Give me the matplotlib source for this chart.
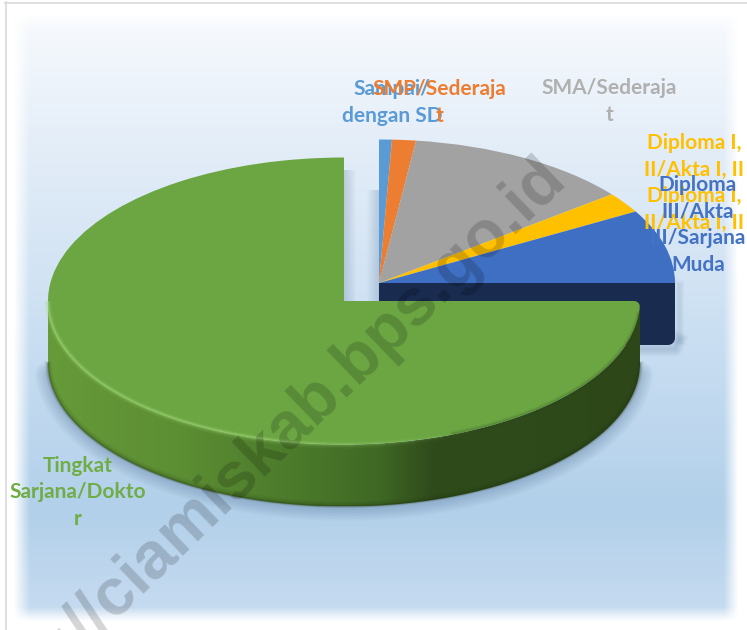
import numpy as np
import matplotlib
matplotlib.use("Agg")
import matplotlib.pyplot as plt
from matplotlib.patches import PathPatch, Polygon
from matplotlib.path import Path
from matplotlib.colors import LinearSegmentedColormap, to_rgb

# --- data ---
categories = ["Sampai/\ndengan SD", "SMP/Sederaja\nt", "SMA/Sederaja\nt",
              "Diploma I,\nII/Akta I, II\nDiploma I,\nII/Akta I, II",
              "Diploma\nIII/Akta\nIII/Sarjana\nMuda",
              "Tingkat\nSarjana/Dokto\nr"]
values = [0.7, 1.3, 12.4, 2.3, 8.3, 75.0]
colors = ["#5b9bd5", "#ed7d31", "#a2a2a2", "#ffc000", "#3f6fc2", "#6ba643"]
label_colors = ["#5b9bd5", "#ed7d31", "#b0b0b0", "#ffc000", "#4472c4", "#70ad47"]
label_pos = [(392, 102.5), (439, 102.5), (609, 101.5), (694, 183), (698, 225), (78, 492.5)]

W, H = 747, 630
RX, RY = 296.0, 143.5
DEPTH = 62
K = RX / RY
def Y(py):
    return (H - np.asarray(py, dtype=float)) * K

plt.rcParams["font.family"] = ["Lato", "DejaVu Sans"]
fig = plt.figure(figsize=(W / 100, H / 100), dpi=100)
ax = fig.add_axes([0, 0, 1, 1])

def limits():
    ax.set_aspect("auto")
    ax.set_xlim(0, W)
    ax.set_ylim(0, H * K)
    ax.axis("off")

# --- background panel ---
xs = np.arange(W) + .5
ys = np.arange(H) + .5
stops_y = [25, 150, 330, 510, 612]
stops_c = [to_rgb(c) for c in ["#f6f9fd", "#e3edf8", "#cbdff2", "#b2d0ea", "#c6dbf0"]]
rgb = np.stack([np.interp(ys, stops_y, [c[i] for c in stops_c]) for i in range(3)], axis=1)[:, None, :]
rgb = np.repeat(rgb, W, axis=1)
ex = np.clip((xs - 14) / 16, 0, 1) * np.clip((738 - xs) / 14, 0, 1)
ey = np.clip((ys - 14) / 14, 0, 1) * np.clip((621 - ys) / 14, 0, 1)
mask = (ey[:, None] * ex[None, :])[..., None]
img = rgb * mask + (1 - mask)
ax.imshow(img, extent=(0, W, 0, H * K), aspect="auto", origin="upper", zorder=0)
ax.plot([5.5, 5.5], [Y(2), Y(630)], color="#dcdcdc", lw=1.3, zorder=0.5)
ax.plot([5, W], [Y(2.5), Y(2.5)], color="#dcdcdc", lw=1.3, zorder=0.5)

right_vals = np.array(values[:5]) / 100
green_val = np.array(values[5:]) / 100
cR = (379.0, 283.0)
cG = (344.0, 301.0)

# --- soft shadows ---
a = np.linspace(0.02 * np.pi, 0.98 * np.pi, 240)
for g in range(1, 9):
    ax.plot(cG[0] + (RX + 1.5) * np.cos(a), Y(cG[1] + DEPTH + 2 + RY * np.sin(a)),
            color="#44668c", lw=g * 2.2, alpha=0.035, zorder=0.8, solid_capstyle="round")
for g in range(1, 7):
    ax.plot([640, 675, 679], [Y(349), Y(349), Y(340)], color="#44668c", lw=g * 1.8, alpha=0.04, zorder=0.8)
    ax.plot([679, 679], [Y(340), Y(285)], color="#44668c", lw=g * 1.2, alpha=0.025, zorder=0.8)
for i in range(12):
    for x0, d in ((344, 1), (379, -1)):
        ax.plot([x0 + d * i] * 2, [Y(190 if d < 0 else 170), Y(301)], color="#7f9ab5",
                lw=1.1, alpha=0.28 * (1 - i / 12), zorder=0.9, solid_capstyle="butt")

# --- navy cut face + outer wall of the right group ---
rc = 7
arc = np.linspace(0, np.pi / 2, 8)
xr = cR[0] + RX
yb = cR[1] + DEPTH
poly = [(cR[0], cR[1]), (xr, cR[1])] + \
       [(xr - rc + rc * np.cos(t), yb - rc + rc * np.sin(t)) for t in arc] + [(cR[0], yb)]
poly = np.array(poly)
ax.add_patch(Polygon(np.c_[poly[:, 0], Y(poly[:, 1])], closed=True, fc="#1a2b50", ec="none", zorder=2))

# --- right group top ---
ax.pie(right_vals, colors=colors[:5], startangle=90, counterclock=False, radius=RX,
       center=(cR[0], Y(cR[1])), normalize=False, wedgeprops=dict(lw=0, zorder=3))
limits()

# --- green wall ---
a = np.linspace(0, np.pi, 240)
ex_x = cG[0] + RX * np.cos(a)
ex_y = cG[1] + RY * np.sin(a)
wall = np.r_[np.c_[ex_x, Y(ex_y)], np.c_[ex_x[::-1], Y(ex_y[::-1] + DEPTH)]]
patch = PathPatch(Path(np.r_[wall, wall[:1]], closed=True), fc="none", ec="none", transform=ax.transData)
ax.add_patch(patch)
wall_cmap = LinearSegmentedColormap.from_list(
    "w", [(0, "#679a39"), (0.22, "#5c8e33"), (0.42, "#4b7a2b"), (0.56, "#3f6824"),
          (0.65, "#2f4b1b"), (1, "#2d4719")])
wimg = np.linspace(0, 1, 256)[None, :]
im = ax.imshow(wimg, extent=(cG[0] - RX, cG[0] + RX, Y(cG[1] + RY + DEPTH), Y(cG[1])),
               cmap=wall_cmap, aspect="auto", zorder=4)
im.set_clip_path(patch)
for w, al in [(5, .08), (3, .12), (1.4, .28)]:
    ax.plot(ex_x, Y(ex_y + DEPTH - w / 3), color="#1f3410", lw=w, alpha=al, zorder=4.2, solid_capstyle="butt")

# --- green top ---
ax.pie(green_val, colors=colors[5:], startangle=0, counterclock=False, radius=RX,
       center=(cG[0], Y(cG[1])), normalize=False, wedgeprops=dict(lw=0, zorder=5))
limits()

# rounded outer corner of the green top
rc2 = 6
t = np.linspace(0, np.pi / 2, 8)
cx, cy = cG[0] + RX - rc2, cG[1] + rc2
corner = [(cx + rc2, cy - rc2)] + [(cx + rc2 * np.cos(v), cy - rc2 * np.sin(v)) for v in t]
corner = np.array(corner)
ax.add_patch(Polygon(np.c_[corner[:, 0], Y(corner[:, 1])], closed=True, fc="#1a2b50", ec="none", zorder=5.2))

# bevel: soft dark transition on the right, bright highlight fading in on the left
r = np.linspace(0.03 * np.pi, 0.38 * np.pi, 80)
for w, al in [(4, .10), (2, .16)]:
    ax.plot(cG[0] + RX * np.cos(r), Y(cG[1] + (RY - 0.5) * np.sin(r)), color="#2a4417", lw=w, alpha=al, zorder=5.4)
edges = np.linspace(0.36 * np.pi, 1.0 * np.pi, 21)
for k in range(20):
    b = np.linspace(edges[k], edges[k + 1], 12)
    fade = min(1, (k + 1) / 8)
    for off, w, al in [(0.5, 5, .10), (0, 3, .20), (0, 1.5, .32)]:
        ax.plot(cG[0] + RX * np.cos(b), Y(cG[1] + (RY + off) * np.sin(b)),
                color="#a5dc78", lw=w, alpha=al * fade, zorder=5.5, solid_capstyle="butt")

# --- labels ---
for i, cat in enumerate(categories):
    x, y = label_pos[i]
    ax.text(x, Y(y), cat, color=label_colors[i], fontsize=15, fontweight="bold",
            ha="center", va="center", linespacing=1.42, zorder=7, multialignment="center")

# --- watermark ---
ax.text(556, Y(168), "http://ciamiskab.bps.go.id", fontsize=47.5, fontweight="bold",
        family="Liberation Sans", color="#000000", alpha=0.17, rotation=44,
        rotation_mode="anchor", ha="right", va="center", zorder=8, clip_on=True)
limits()
fig.savefig("out.png", dpi=100, facecolor="white")
